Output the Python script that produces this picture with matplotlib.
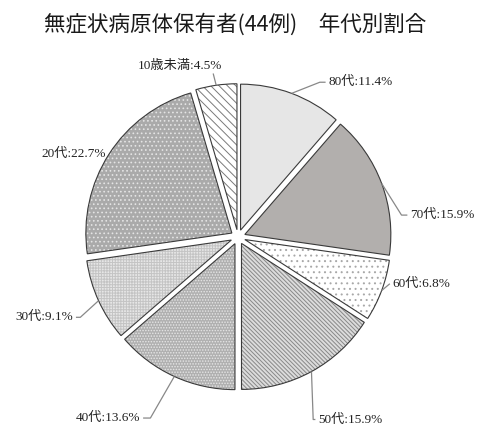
import numpy as np
import matplotlib
matplotlib.use("Agg")
import matplotlib.pyplot as plt

# === Data ===
categories = ["80代", "70代", "60代", "50代", "40代", "30代", "20代", "10歳未満"]
counts = [5, 7, 3, 7, 6, 4, 10, 2]
pct_labels = ["11.4%", "15.9%", "6.8%", "15.9%", "13.6%", "9.1%", "22.7%", "4.5%"]

# === Style per slice ===
faces = ["#e6e6e6", "#b2afad", "#ffffff", "#dcdcdc", "#b0b0b0", "#e6e6e6", "#aaaaaa", "#ffffff"]
hatches = [None, None, "...", "\\" * 8, "......", "++++++", "....", "\\\\\\\\"]
hatch_cols = ["#e6e6e6", "#b2afad", "#a8a8a8", "#888888", "#e6e6e6", "#c4c4c4", "#e4e4e4", "#7a7a7a"]

# label layout: (text x, text y, ha, elbow x, elbow y) in data units (1 = radius)
layout = [
    (0.62, 1.06, "left", 0.56, 1.06),
    (1.18, 0.15, "left", 1.12, 0.15),
    (1.06, -0.32, "left", 1.04, -0.32),
    (0.55, -1.25, "left", 0.515, -1.25),
    (-0.67, -1.24, "right", -0.6, -1.24),
    (-1.13, -0.55, "right", -1.08, -0.55),
    (-0.905, 0.57, "right", None, None),
    (-0.40, 1.17, "center", -0.17, 1.12),
]

explode = 0.05
plt.rcParams["hatch.linewidth"] = 0.7

fig = plt.figure(figsize=(4.8, 4.29), dpi=100)
ax = fig.add_axes([0, 0, 1, 1])

cx, cy, rpx = 238, 237, 146
W, H = 480, 429

wedges, _ = ax.pie(counts, startangle=90, counterclock=False, radius=1,
                   explode=[explode] * len(counts), colors=faces)
for w, h, hc in zip(wedges, hatches, hatch_cols):
    w.set_linewidth(0)
    if h:
        w.set_hatch(h)
        w.set_edgecolor(hc)
        w.set_linewidth(0)

# outlines on top
outl, _ = ax.pie(counts, startangle=90, counterclock=False, radius=1,
                 explode=[explode] * len(counts),
                 wedgeprops=dict(facecolor="none", edgecolor="#3a3a3a", linewidth=0.8))

total = sum(counts)
cum = np.cumsum([0] + counts)
for i, (cat, pct) in enumerate(zip(categories, pct_labels)):
    mid = (cum[i] + cum[i + 1]) / 2 / total
    ang = np.deg2rad(90 - 360 * mid)
    ex, ey = (1 + explode) * np.cos(ang), (1 + explode) * np.sin(ang)
    tx, ty, ha, bx, by = layout[i]
    if bx is not None:
        if ha == "center":
            xs, ys = [ex, bx], [ey, by]
        else:
            xs, ys = [ex, bx, tx + (-0.02 if ha == "left" else 0.02)], [ey, by, ty]
        ax.plot(xs, ys, color="#888888", lw=0.9, solid_capstyle="butt")
    ax.text(tx, ty, f"{cat}:{pct}", ha=ha, va="center", fontsize=9.5, color="#222222",
            family=["Liberation Serif", "Noto Sans CJK JP"])

ax.set_xlim(-cx / rpx, (W - cx) / rpx)
ax.set_ylim(-(H - cy) / rpx, cy / rpx)
ax.set_aspect("auto")
ax.axis("off")

fig.text(0.49, 1 - 25 / H, "無症状病原体保有者(44例)　年代別割合", ha="center", va="center",
         fontsize=15.5, color="#1a1a1a", family=["Noto Sans CJK JP", "DejaVu Sans"])

fig.savefig("out.png", dpi=100)
